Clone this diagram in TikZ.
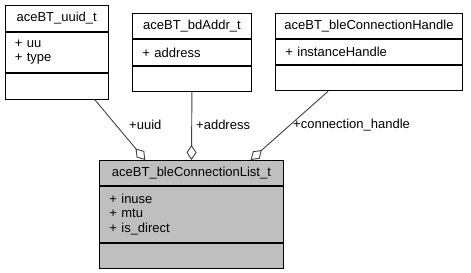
\documentclass[tikz,border=0pt]{standalone}
\usepackage{fontspec}
\setmainfont{Liberation Sans}
\usetikzlibrary{arrows.meta,calc}
\definecolor{edgegray}{HTML}{404040}
\definecolor{classfill}{HTML}{BFBFBF}
\begin{document}
\begin{tikzpicture}[x=1bp,y=-1bp,
  cell/.style={draw=black, line width=0.9bp, inner sep=0pt, anchor=north west,
    font=\fontsize{13bp}{14.3bp}\selectfont},
  titlecell/.style={cell, align=center, text height=9.5bp, text depth=3bp},
  attrcell/.style={cell, align=left, inner xsep=10bp},
  maincell/.style={fill=classfill},
  assoc/.style={draw=edgegray, line width=0.9bp, {Diamond[open,length=15bp,width=10bp]}-},
  rolelabel/.style={anchor=west, inner sep=0pt, font=\fontsize{13bp}{14.3bp}\selectfont}]
\useasboundingbox (0,0) rectangle (471,272);

% aceBT_uuid_t
\node[titlecell, minimum width=103.5bp, minimum height=26.5bp] (uuidT) at (4.5,4.5) {aceBT\_uuid\_t};
\node[attrcell, minimum width=103.5bp, minimum height=40bp, text width=83.5bp] (uuidA) at (uuidT.south west) {+ uu\\+ type};
\node[cell, minimum width=103.5bp, minimum height=26bp] (uuidM) at (uuidA.south west) {};

% aceBT_bdAddr_t
\node[titlecell, minimum width=119bp, minimum height=25bp] (addrT) at (132,13) {aceBT\_bdAddr\_t};
\node[attrcell, minimum width=119bp, minimum height=26bp, text width=99bp] (addrA) at (addrT.south west) {+ address};
\node[cell, minimum width=119bp, minimum height=25bp] (addrM) at (addrA.south west) {};

% aceBT_bleConnectionHandle
\node[titlecell, minimum width=187bp, minimum height=25bp] (hdlT) at (275,13) {aceBT\_bleConnectionHandle};
\node[attrcell, minimum width=187bp, minimum height=25bp, text width=167bp] (hdlA) at (hdlT.south west) {+ instanceHandle};
\node[cell, minimum width=187bp, minimum height=25.5bp] (hdlM) at (hdlA.south west) {};

% aceBT_bleConnectionList_t
\node[titlecell, maincell, minimum width=184bp, minimum height=25bp] (mainT) at (99,160) {aceBT\_bleConnectionList\_t};
\node[attrcell, maincell, minimum width=184bp, minimum height=56bp, text width=164bp] (mainA) at (mainT.south west) {+ inuse\\+ mtu\\+ is\_direct};
\node[cell, maincell, minimum width=184bp, minimum height=25bp] (mainM) at (mainA.south west) {};

% aggregation connectors
\draw[assoc] ($(mainT.north west)!0.25!(mainT.north east)$) -- ($(uuidM.south west)!0.865!(uuidM.south east)$);
\draw[assoc] (mainT.north) -- (addrM.south);
\draw[assoc] ($(mainT.north west)!0.82!(mainT.north east)$) -- ($(hdlM.south west)!0.283!(hdlM.south east)$);

% role names
\node[rolelabel] (lblUuid) at (129,125) {+uuid};
\node[rolelabel] (lblAddr) at (196,125) {+address};
\node[rolelabel] (lblHdl) at (293,125) {+connection\_handle};
\end{tikzpicture}
\end{document}
